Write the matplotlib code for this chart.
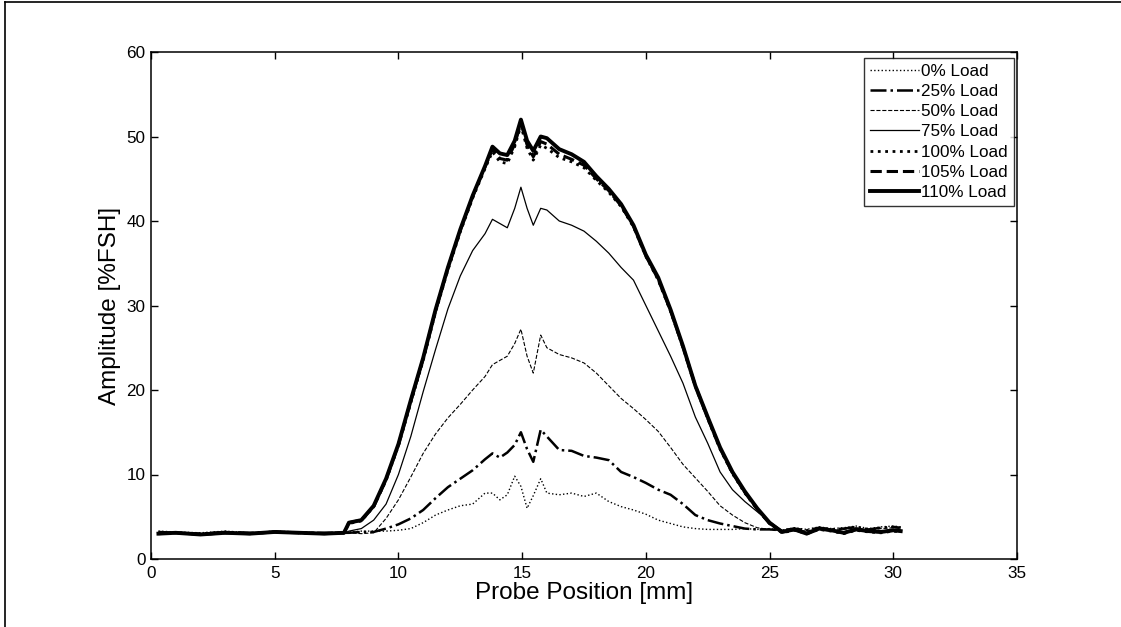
import matplotlib
matplotlib.use("Agg")
import matplotlib.pyplot as plt
from matplotlib.lines import Line2D

plt.rcParams['font.family'] = ['Liberation Sans', 'DejaVu Sans']

# Probe position samples [mm]
position = [0.3, 1, 2, 3, 4, 5, 6, 7, 7.8, 8.0, 8.5, 9, 9.5, 10, 10.5, 11, 11.5,
            12, 12.5, 13, 13.5, 13.8, 14.1, 14.4, 14.7, 14.95, 15.2, 15.45, 15.75,
            16.0, 16.5, 17, 17.5, 18, 18.5, 19, 19.5, 20, 20.5, 21, 21.5, 22, 22.5,
            23, 23.5, 24, 24.5, 25, 25.5, 26, 26.5, 27, 27.5, 28, 28.5, 29, 29.5,
            30, 30.3]

# Amplitude [%FSH] for each load level
load_0 = [3.3, 3.2, 3.1, 3.3, 3.1, 3.3, 3.2, 3.1, 3.2, 3.2, 3.3, 3.3, 3.3, 3.4, 3.6,
          4.3, 5.2, 5.8, 6.3, 6.5, 7.8, 7.8, 7.0, 7.6, 9.8, 8.6, 6.0, 7.5, 9.5,
          7.8, 7.6, 7.8, 7.4, 7.8, 6.8, 6.2, 5.8, 5.3, 4.6, 4.2, 3.8, 3.6, 3.5,
          3.5, 3.5, 3.6, 3.5, 3.6, 3.4, 3.7, 3.5, 3.8, 3.6, 3.7, 3.9, 3.6, 3.8,
          3.9, 3.8]
load_25 = [3.2, 3.1, 3.0, 3.2, 3.1, 3.2, 3.1, 3.1, 3.1, 3.1, 3.2, 3.2, 3.6, 4.1, 4.8,
           5.8, 7.2, 8.5, 9.5, 10.5, 11.8, 12.5, 12.0, 12.6, 13.5, 15.0, 13.0, 11.5,
           15.3, 14.5, 12.9, 12.8, 12.2, 12.0, 11.7, 10.3, 9.7, 9.0, 8.2, 7.6, 6.5,
           5.2, 4.6, 4.2, 3.9, 3.6, 3.5, 3.5, 3.4, 3.6, 3.4, 3.7, 3.5, 3.6, 3.8,
           3.5, 3.7, 3.8, 3.7]
load_50 = [3.1, 3.1, 3.0, 3.2, 3.0, 3.2, 3.1, 3.0, 3.1, 3.1, 3.0, 3.1, 4.8, 7.0, 9.7,
           12.5, 14.8, 16.7, 18.3, 20.0, 21.6, 23.0, 23.5, 24.0, 25.5, 27.2, 24.0,
           22.0, 26.5, 25.0, 24.2, 23.8, 23.2, 22.0, 20.5, 19.0, 17.8, 16.5, 15.1,
           13.2, 11.2, 9.6, 8.0, 6.3, 5.2, 4.3, 3.7, 3.5, 3.3, 3.5, 3.3, 3.6, 3.4,
           3.5, 3.7, 3.4, 3.6, 3.7, 3.6]
load_75 = [3.0, 3.1, 3.0, 3.1, 3.0, 3.2, 3.1, 3.0, 3.0, 3.3, 3.6, 4.6, 6.5, 10.0, 14.5,
           19.8, 24.8, 29.6, 33.5, 36.5, 38.5, 40.2, 39.7, 39.2, 41.5, 44.0, 41.5,
           39.5, 41.5, 41.3, 40.0, 39.5, 38.8, 37.6, 36.2, 34.5, 33.0, 30.0, 27.0,
           24.0, 20.8, 16.8, 13.7, 10.3, 8.2, 6.8, 5.6, 4.4, 3.4, 3.5, 3.1, 3.6,
           3.4, 3.2, 3.5, 3.3, 3.2, 3.5, 3.4]
load_100 = [3.0, 3.1, 2.9, 3.1, 3.0, 3.2, 3.1, 3.0, 3.1, 4.2, 4.5, 6.2, 9.3, 13.4,
            18.5, 23.5, 29.2, 34.2, 38.7, 42.7, 46.2, 48.2, 47.0, 46.8, 48.8, 51.3,
            48.6, 47.2, 49.0, 48.6, 47.5, 47.0, 46.3, 44.8, 43.4, 41.7, 39.3, 35.8,
            33.0, 29.3, 25.0, 20.4, 16.6, 13.0, 10.1, 7.8, 5.9, 4.2, 3.1, 3.4, 3.0,
            3.5, 3.3, 3.0, 3.4, 3.2, 3.1, 3.3, 3.2]
load_105 = [3.0, 3.1, 2.9, 3.1, 3.0, 3.2, 3.1, 3.0, 3.1, 4.3, 4.6, 6.2, 9.4, 13.5,
            18.7, 23.7, 29.4, 34.4, 38.9, 42.9, 46.4, 48.5, 47.4, 47.2, 49.1, 51.6,
            49.0, 47.6, 49.4, 49.1, 47.9, 47.3, 46.6, 45.0, 43.6, 41.8, 39.4, 35.9,
            33.1, 29.4, 25.1, 20.5, 16.7, 13.1, 10.2, 7.9, 5.9, 4.2, 3.2, 3.5, 3.0,
            3.6, 3.4, 3.1, 3.5, 3.3, 3.2, 3.4, 3.3]
load_110 = [3.0, 3.1, 2.9, 3.1, 3.0, 3.2, 3.1, 3.0, 3.1, 4.3, 4.6, 6.3, 9.5, 13.6,
            18.8, 23.8, 29.5, 34.5, 39.0, 43.0, 46.5, 48.8, 48.0, 47.8, 49.5, 52.0,
            49.5, 48.3, 50.0, 49.8, 48.5, 47.9, 47.0, 45.3, 43.8, 42.0, 39.5, 36.0,
            33.3, 29.5, 25.2, 20.5, 16.8, 13.2, 10.3, 8.0, 6.0, 4.3, 3.2, 3.5, 3.0,
            3.6, 3.4, 3.1, 3.5, 3.3, 3.2, 3.4, 3.3]

labels = ['0% Load', '25% Load', '50% Load', '75% Load',
          '100% Load', '105% Load', '110% Load']
series = [load_0, load_25, load_50, load_75, load_100, load_105, load_110]
styles = [(':', 1.0), ('-.', 1.8), ('--', 0.8), ('-', 0.9),
          (':', 2.0), ('--', 2.2), ('-', 2.8)]

x_ticks = [0, 5, 10, 15, 20, 25, 30, 35]
y_ticks = [0, 10, 20, 30, 40, 50, 60]

fig = plt.figure(figsize=(11.21, 6.27), dpi=100)
ax = fig.add_axes([151 / 1121, 68 / 627, 866 / 1121, 507 / 627])

for vals, lab, (ls, lw) in zip(series, labels, styles):
    ax.plot(position, vals, color='black', linestyle=ls, linewidth=lw, label=lab)

ax.set_xlim(0, 35)
ax.set_ylim(0, 60)
ax.set_xticks(x_ticks)
ax.set_yticks(y_ticks)
ax.tick_params(direction='in', length=5, width=1, top=True, right=True,
               labelsize=12.3, colors='black')
ax.tick_params(axis='y', pad=4)
ax.tick_params(axis='x', pad=5)
for sp in ax.spines.values():
    sp.set_linewidth(1.1)
    sp.set_color('black')

ax.set_xlabel('Probe Position [mm]', fontsize=17.5, labelpad=1)
ax.set_ylabel('Amplitude [%FSH]', fontsize=17.5, labelpad=4)

leg = ax.legend(loc='upper right', bbox_to_anchor=(0.996, 0.988), fontsize=12.3,
                frameon=True, fancybox=False, edgecolor='black',
                handlelength=2.9, handletextpad=0.1, labelspacing=0.3,
                borderpad=0.35, borderaxespad=0.0)
leg.get_frame().set_linewidth(1.0)

# Outer frame lines along the left and top edges of the figure
fig.add_artist(Line2D([5 / 1121, 5 / 1121], [0, 1 - 2 / 627], transform=fig.transFigure,
                      color='black', linewidth=1.2))
fig.add_artist(Line2D([5 / 1121, 1], [1 - 2 / 627, 1 - 2 / 627], transform=fig.transFigure,
                      color='black', linewidth=1.2))

fig.savefig('out.png', dpi=100)
